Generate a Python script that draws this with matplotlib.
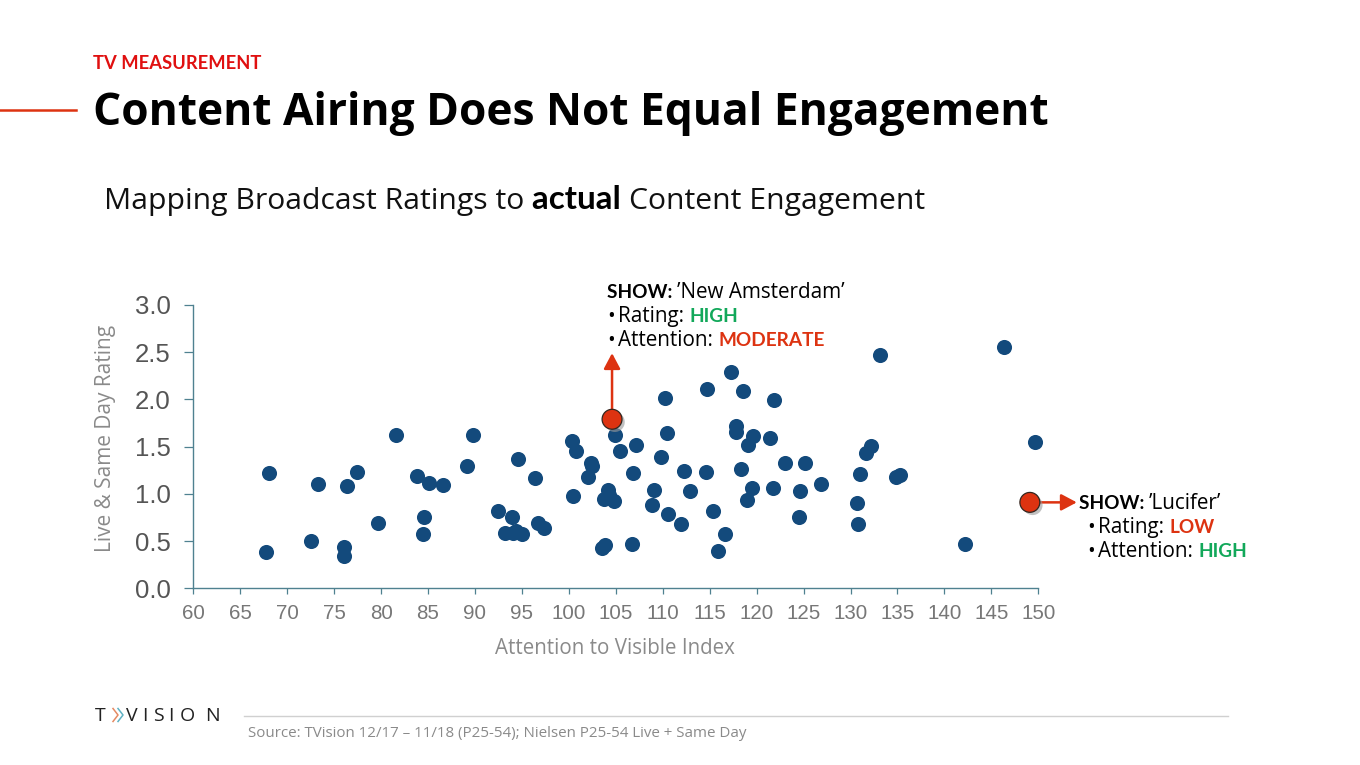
import matplotlib
matplotlib.use("Agg")
import matplotlib.pyplot as plt
import matplotlib.patheffects as pe
from matplotlib.lines import Line2D


# ─── Data ─────────────────────────────────────────────────────────────────────

attention = [
    68.1, 67.7, 72.5, 73.3, 76.0, 76.1, 76.4, 77.4, 79.7, 81.6,
    83.8, 84.6, 84.5, 85.1, 86.6, 89.1, 89.8, 92.4, 93.9, 93.2,
    94.1, 94.4, 95.0, 94.6, 96.4, 96.7, 97.4, 100.3, 100.8, 100.4,
    102.4, 102.5, 102.0, 104.2, 103.7, 104.8, 104.3, 103.5, 103.8, 106.7,
    104.9, 105.4, 107.1, 106.8, 109.8, 109.1, 108.9, 110.6, 110.2, 110.4,
    112.3, 112.9, 111.9, 114.6, 114.7, 115.4, 116.6, 115.9, 117.3, 118.6,
    117.8, 117.8, 118.3, 119.6, 119.1, 119.5, 119.0, 121.4, 121.8, 121.7,
    123.0, 125.2, 124.6, 124.5, 126.9, 131.0, 130.7, 130.8, 131.7, 132.2,
    133.1, 134.8, 135.3, 142.2, 146.3, 149.7,
]
rating = [
    1.22, 0.38, 0.50, 1.10, 0.44, 0.34, 1.08, 1.23, 0.69, 1.62,
    1.19, 0.76, 0.57, 1.11, 1.09, 1.30, 1.62, 0.82, 0.75, 0.59,
    0.59, 0.61, 0.58, 1.37, 1.17, 0.69, 0.64, 1.56, 1.45, 0.98,
    1.33, 1.30, 1.18, 1.04, 0.95, 0.92, 0.99, 0.43, 0.46, 0.47,
    1.62, 1.45, 1.52, 1.22, 1.39, 1.04, 0.88, 0.79, 2.01, 1.64,
    1.24, 1.03, 0.68, 1.23, 2.11, 0.82, 0.57, 0.39, 2.29, 2.09,
    1.72, 1.66, 1.26, 1.61, 1.52, 1.06, 0.93, 1.59, 1.99, 1.06,
    1.33, 1.33, 1.03, 0.76, 1.10, 1.21, 0.90, 0.68, 1.43, 1.51,
    2.47, 1.18, 1.20, 0.47, 2.55, 1.55,
]
show_attention = [104.6, 149.1]
show_rating = [1.79, 0.91]

x_ticks = list(range(60, 151, 5))
y_ticks = [0.0, 0.5, 1.0, 1.5, 2.0, 2.5, 3.0]

RED = "#dd3311"
GREEN = "#12a85a"
BLUE = "#134a7c"
AXIS = "#4f8190"
W, H = 1360, 765
BOLD = "Lato"        # condensed-looking bold words
BODY = "Open Sans"   # closest to the wide regular face of the slide


fig = plt.figure(figsize=(W / 100, H / 100), dpi=100, facecolor="white")
renderer = fig.canvas.get_renderer()


# Places several text pieces one after another, x and baseline y in pixels from top left
def text_runs(x, y, runs, size, bold_scale=0.92):
    for label, color, weight in runs:
        bold = weight == "bold"
        t = fig.text(x / W, 1 - y / H, label, color=color, fontweight=weight,
                     fontsize=size * bold_scale if bold else size, family=BOLD if bold else BODY,
                     va="baseline", ha="left")
        x += t.get_window_extent(renderer).width


def bullet(x, y, runs, size):
    fig.text(x / W, 1 - y / H, "\u2022", color="black", fontsize=size, family=BODY, va="baseline")
    text_runs(x + 11, y, runs, size)


# ─── Slide header ─────────────────────────────────────────────────────────────

fig.add_artist(Line2D([0, 76 / W], [1 - 110 / H] * 2, color=RED, lw=1.8))
fig.text(93 / W, 1 - 69 / H, "TV MEASUREMENT", color="#e01010", fontsize=13.2,
         fontweight="bold", family=BOLD, va="baseline")
fig.text(93 / W, 1 - 125 / H, "Content Airing Does Not Equal Engagement", color="black",
         fontsize=31.9, fontweight="bold", family=BODY, va="baseline")
text_runs(104, 209, [("Mapping Broadcast Ratings to ", "#111111", "normal"),
                     ("actual ", "black", "bold"),
                     ("Content Engagement", "#111111", "normal")], 21.7, bold_scale=1.1)


# ─── Scatter ──────────────────────────────────────────────────────────────────

ax = fig.add_axes([193.3 / W, (H - 588.3) / H, 845 / W, 283.3 / H])
ax.scatter(attention, rating, s=118, color=BLUE, linewidths=0, zorder=3, clip_on=False)

ax.set_xlim(60, 150)
ax.set_ylim(0, 3)
ax.set_xticks(x_ticks)
ax.set_yticks(y_ticks)
ax.set_yticklabels([f"{v:.1f}" for v in y_ticks], fontsize=18.5, color="#555555",
                   family="Liberation Sans")
ax.set_xticklabels([str(v) for v in x_ticks], fontsize=14.8, color="#777777",
                   family="Liberation Sans")
ax.tick_params(axis="y", length=6.5, width=0.9, color=AXIS, pad=10)
ax.tick_params(axis="x", length=4.5, width=0.9, color=AXIS, pad=7)
for side in ["top", "right"]:
    ax.spines[side].set_visible(False)
for side in ["left", "bottom"]:
    ax.spines[side].set_color(AXIS)
    ax.spines[side].set_linewidth(1.0)
ax.patch.set_alpha(0)

fig.text(106 / W, 1 - 438 / H, "Live & Same Day Rating", rotation=90, color="#8a8a8a",
         fontsize=15, family=BODY, ha="center", va="center")
fig.text(615 / W, 1 - 649 / H, "Attention to Visible Index", color="#8a8a8a",
         fontsize=14.8, family=BODY, ha="center", va="center")

# Callout arrows first, so the red dots sit on top of them
arrow = dict(arrowstyle="-|>,head_width=0.5,head_length=0.94", color=RED, lw=1.8,
             shrinkA=0, shrinkB=0)
ax.annotate("", xy=(show_attention[0], 2.49), xytext=(show_attention[0], show_rating[0]),
            arrowprops=arrow, zorder=4, annotation_clip=False)
ax.annotate("", xy=(154.1, show_rating[1]), xytext=(show_attention[1], show_rating[1]),
            arrowprops=arrow, zorder=4, annotation_clip=False)
ax.scatter(show_attention, show_rating, s=205, color=RED, edgecolors="#33261f", linewidths=0.9,
           zorder=5, clip_on=False,
           path_effects=[pe.withSimplePatchShadow(offset=(2, -2), shadow_rgbFace="#999999", alpha=0.6)])


# ─── Callout text ─────────────────────────────────────────────────────────────

size = 14.9
text_runs(607, 298, [("SHOW: ", "black", "bold"), ("\u2019New Amsterdam\u2019", "black", "normal")], size)
bullet(607, 322, [("Rating: ", "black", "normal"), ("HIGH", GREEN, "bold")], size)
bullet(607, 346, [("Attention: ", "black", "normal"), ("MODERATE", RED, "bold")], size)

text_runs(1079, 509, [("SHOW: ", "black", "bold"), ("\u2019Lucifer\u2019", "black", "normal")], size)
bullet(1087, 533, [("Rating: ", "black", "normal"), ("LOW", RED, "bold")], size)
bullet(1087, 557, [("Attention: ", "black", "normal"), ("HIGH", GREEN, "bold")], size)


# ─── Footer: logo, rule, source ───────────────────────────────────────────────

logo_letters = ["T", "V", "I", "S", "I", "O", "N"]
logo_x = [100, 132, 145, 158, 171, 187, 212]
for letter, x0 in zip(logo_letters, logo_x):
    fig.text(x0 / W, 1 - 721 / H, letter, fontsize=14, color="#222222", family="Open Sans",
             ha="center", va="baseline")
for x0, color in [(113, "#e58a62"), (118, "#5fb2c4")]:
    fig.add_artist(Line2D([x0 / W, (x0 + 5) / W, x0 / W],
                          [1 - 708.5 / H, 1 - 715 / H, 1 - 721.5 / H], color=color, lw=1.1))

fig.add_artist(Line2D([244 / W, 1228 / W], [1 - 715.5 / H] * 2, color="#d0d0d0", lw=1.0))
fig.text(248 / W, 1 - 737 / H, "Source: TVision 12/17 \u2013 11/18 (P25-54); Nielsen P25-54 Live + Same Day",
         fontsize=10.9, color="#8a8a8a", family=BODY, va="baseline")

fig.savefig("out.png", dpi=100)
